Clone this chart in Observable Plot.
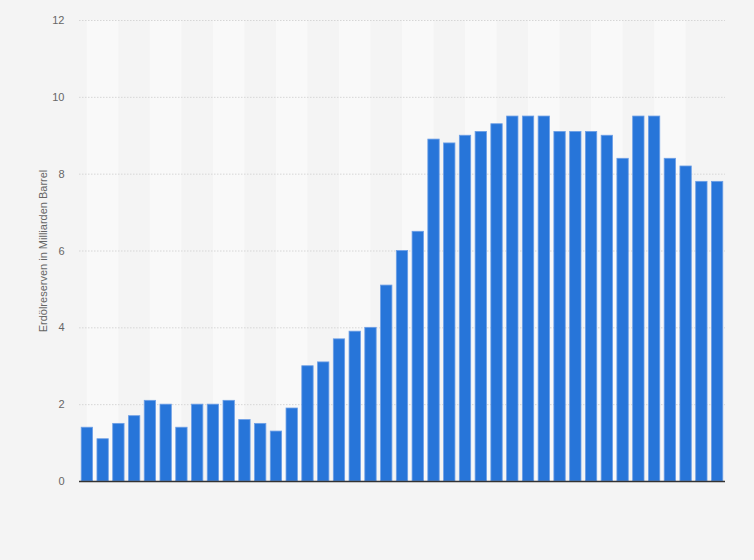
<!DOCTYPE html>
<html>
<head>
<meta charset="utf-8">
<script src="https://cdn.jsdelivr.net/npm/d3@7"></script>
<script src="https://cdn.jsdelivr.net/npm/@observablehq/plot@0.6"></script>
<style>
  html, body { margin: 0; padding: 0; background: #f4f4f4; }
  #chart svg { display: block; }
</style>
</head>
<body>
<div id="chart"></div>
<script>
const years = [1980,1981,1982,1983,1984,1985,1986,1987,1988,1989,1990,1991,1992,1993,1994,1995,1996,1997,1998,1999,2000,2001,2002,2003,2004,2005,2006,2007,2008,2009,2010,2011,2012,2013,2014,2015,2016,2017,2018,2019,2020];
const reserves = [1.4,1.1,1.5,1.7,2.1,2.0,1.4,2.0,2.0,2.1,1.6,1.5,1.3,1.9,3.0,3.1,3.7,3.9,4.0,5.1,6.0,6.5,8.9,8.8,9.0,9.1,9.3,9.5,9.5,9.5,9.1,9.1,9.1,9.0,8.4,9.5,9.5,8.4,8.2,7.8,7.8];
const yTicks = [0,2,4,6,8,10,12];
const yLabel = "Erdölreserven in Milliarden Barrel";

const data = years.map((year, i) => ({year, i, value: reserves[i]}));
const bands = data.filter(d => d.i % 4 === 0 && d.i + 2 < data.length);

const chart = Plot.plot({
  width: 754,
  height: 560,
  marginLeft: 79,
  marginRight: 29,
  marginTop: 20,
  marginBottom: 79,
  style: {background: "#f4f4f4", fontFamily: "'Liberation Sans', Arial, sans-serif", fontSize: "11px", color: "#666"},
  x: {domain: [-0.5, years.length - 0.5], axis: null},
  y: {domain: [0, 12]},
  marks: [
    Plot.rect(bands, {x1: d => d.i, x2: d => d.i + 2, y1: 0, y2: 12, fill: "#f9f9f9"}),
    Plot.ruleY(yTicks.filter(t => t > 0), {stroke: "#d6d6d6", strokeDasharray: "1.5,1.5", strokeWidth: 1}),
    Plot.rectY(data, {x1: d => d.i - 0.36, x2: d => d.i + 0.36, y: "value", fill: "#2775d9", stroke: "#6d9fe6", strokeWidth: 0.8}),
    Plot.ruleY([0], {stroke: "#333", strokeWidth: 1.5}),
    Plot.axisY({ticks: yTicks, tickSize: 0, tickPadding: 15, label: yLabel, labelAnchor: "center", labelArrow: "none", labelOffset: 40, fill: "#666"})
  ]
});
document.getElementById("chart").appendChild(chart);
</script>
</body>
</html>
